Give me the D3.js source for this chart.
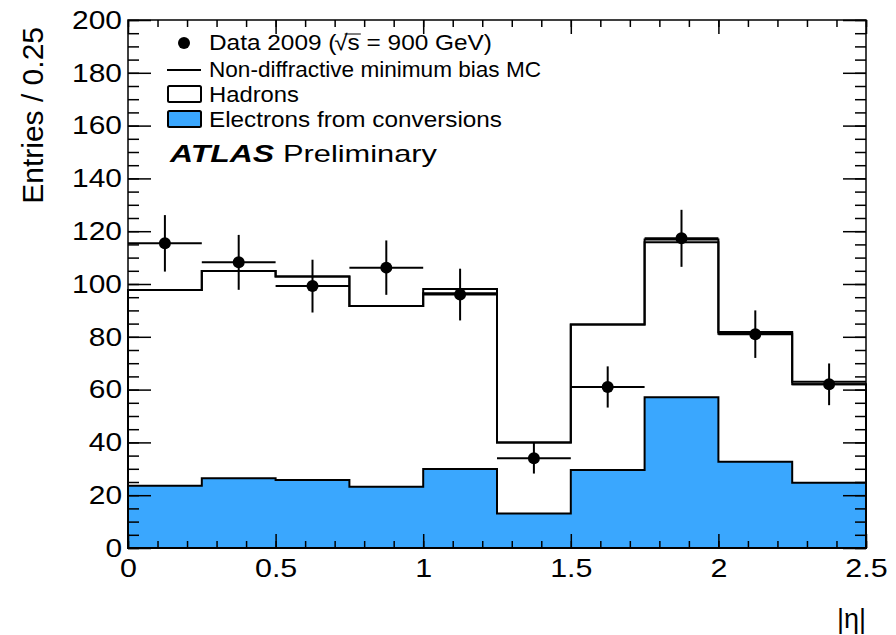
<!DOCTYPE html>
<html>
<head>
<meta charset="utf-8">
<script src="https://cdn.jsdelivr.net/npm/d3@7"></script>
<style>
  body { margin: 0; background: #fff; }
  text { font-family: "Liberation Sans", Arial, sans-serif; fill: #000; }
</style>
</head>
<body>
<div id="chart"></div>
<script>
// bin edges in |eta|
const binEdges = [0, 0.25, 0.5, 0.75, 1, 1.25, 1.5, 1.75, 2, 2.25, 2.5];
// data 2009 and its errors
const dataValues = [115.4, 108.2, 99.2, 106.2, 96, 34, 61, 117.3, 81, 62];
const dataErrors = [10.7, 10.4, 10, 10.3, 9.8, 5.8, 7.8, 10.8, 9, 7.9];
// non-diffractive MB MC (total)
const mcValues = [97.7, 104.9, 102.8, 91.7, 98.1, 40.0, 84.7, 116.9, 81.8, 63.0];
// stacked hadrons + electrons
const stackValues = [97.7, 104.9, 102.8, 91.7, 96.5, 40.0, 84.7, 115.8, 81.2, 62.0];
// electrons from conversions
const electronValues = [23.6, 26.4, 25.8, 23.2, 29.9, 13.1, 29.5, 57.1, 32.7, 24.7];

const yMajorTicks = [0, 20, 40, 60, 80, 100, 120, 140, 160, 180, 200];
const xMajorTicks = [0, 0.5, 1, 1.5, 2, 2.5];

const legendItems = [
  { type: "marker", label: "Data 2009 (", width: 283 },
  { type: "line", label: "Non-diffractive minimum bias MC", width: 332 },
  { type: "box", label: "Hadrons", width: 90, fill: "#fff" },
  { type: "box", label: "Electrons from conversions", width: 293, fill: "#3aa7fe" }
];

const config = {
  width: 896, height: 635,
  margin: { top: 20, right: 30, bottom: 87, left: 128 }
};
const W = config.width - config.margin.left - config.margin.right;
const H = config.height - config.margin.top - config.margin.bottom;
const blue = "#3aa7fe";

const svg = d3.select("#chart").append("svg")
  .attr("width", config.width)
  .attr("height", config.height);

const g = svg.append("g")
  .attr("transform", `translate(${config.margin.left},${config.margin.top})`);

const x = d3.scaleLinear().domain([0, 2.5]).range([0, W]);
const y = d3.scaleLinear().domain([0, 200]).range([H, 0]);

// step histogram helper
function histPoints(values) {
  const pts = values.map((v, i) => ({ e: binEdges[i], v: v }));
  pts.push({ e: binEdges[binEdges.length - 1], v: values[values.length - 1] });
  return pts;
}
const area = d3.area()
  .curve(d3.curveStepAfter)
  .x(d => x(d.e))
  .y0(y(0))
  .y1(d => y(d.v));

// hadrons (stack top) white fill with outline
g.append("path")
  .datum(histPoints(stackValues))
  .attr("d", area)
  .attr("fill", "#fff")
  .attr("stroke", "#000")
  .attr("stroke-width", 2);

// electrons
g.append("path")
  .datum(histPoints(electronValues))
  .attr("d", area)
  .attr("fill", blue)
  .attr("stroke", "#000")
  .attr("stroke-width", 2);

// MC line
const line = d3.line()
  .curve(d3.curveStepAfter)
  .x(d => x(d.e))
  .y(d => y(d.v));
g.append("path")
  .datum(histPoints(mcValues))
  .attr("d", line)
  .attr("fill", "none")
  .attr("stroke", "#000")
  .attr("stroke-width", 2);

// frame
g.append("rect")
  .attr("width", W).attr("height", H)
  .attr("fill", "none")
  .attr("stroke", "#000")
  .attr("stroke-width", 1.5);

// axes (ticks inward)
function stretchLabels(sel, k) {
  sel.selectAll("text").each(function () {
    const len = this.getComputedTextLength();
    d3.select(this).attr("textLength", len * k).attr("lengthAdjust", "spacingAndGlyphs");
  });
}
function styleAxis(sel) {
  sel.select(".domain").remove();
  sel.selectAll("line").attr("stroke", "#000").attr("stroke-width", 1.5);
}

const xMinor = d3.range(0, 2.501, 0.1);
const yMinor = d3.range(0, 200.1, 5);

// bottom
g.append("g").attr("transform", `translate(0,${H})`)
  .call(d3.axisBottom(x).tickValues(xMinor).tickSize(-7).tickFormat(""))
  .call(styleAxis);
const xAxisG = g.append("g").attr("transform", `translate(0,${H})`)
  .call(d3.axisBottom(x).tickValues(xMajorTicks).tickSize(-14).tickPadding(8)
    .tickFormat(d3.format("")))
  .call(styleAxis);
xAxisG.selectAll("text").attr("font-size", 26).attr("font-family", "Liberation Sans, Arial, sans-serif")
  .attr("dy", "0.72em").attr("y", 10);
stretchLabels(xAxisG, 1.17);
// top
g.append("g")
  .call(d3.axisTop(x).tickValues(xMinor).tickSize(-7).tickFormat(""))
  .call(styleAxis);
g.append("g")
  .call(d3.axisTop(x).tickValues(xMajorTicks).tickSize(-14).tickFormat(""))
  .call(styleAxis);
// left
g.append("g")
  .call(d3.axisLeft(y).tickValues(yMinor).tickSize(-11).tickFormat(""))
  .call(styleAxis);
const yAxisG = g.append("g")
  .call(d3.axisLeft(y).tickValues(yMajorTicks).tickSize(-23).tickPadding(7))
  .call(styleAxis);
yAxisG.selectAll("text").attr("font-size", 26).attr("font-family", "Liberation Sans, Arial, sans-serif")
  .attr("x", -6);
stretchLabels(yAxisG, 1.15);
// right
g.append("g").attr("transform", `translate(${W},0)`)
  .call(d3.axisRight(y).tickValues(yMinor).tickSize(-11).tickFormat(""))
  .call(styleAxis);
g.append("g").attr("transform", `translate(${W},0)`)
  .call(d3.axisRight(y).tickValues(yMajorTicks).tickSize(-23).tickFormat(""))
  .call(styleAxis);

// data points with error bars
const pts = g.append("g").selectAll("g")
  .data(dataValues)
  .join("g");
pts.append("line")
  .attr("x1", (d, i) => x(binEdges[i]))
  .attr("x2", (d, i) => x(binEdges[i + 1]))
  .attr("y1", d => y(d)).attr("y2", d => y(d))
  .attr("stroke", "#000").attr("stroke-width", 2);
pts.append("line")
  .attr("x1", (d, i) => x((binEdges[i] + binEdges[i + 1]) / 2))
  .attr("x2", (d, i) => x((binEdges[i] + binEdges[i + 1]) / 2))
  .attr("y1", (d, i) => y(d + dataErrors[i]))
  .attr("y2", (d, i) => y(d - dataErrors[i]))
  .attr("stroke", "#000").attr("stroke-width", 2);
pts.append("circle")
  .attr("cx", (d, i) => x((binEdges[i] + binEdges[i + 1]) / 2))
  .attr("cy", d => y(d))
  .attr("r", 6)
  .attr("fill", "#000");

// legend
const legend = svg.append("g");
const legendTop = [43, 70, 94, 119];
const legendBase = [50, 76.5, 101.5, 127];
legendItems.forEach((item, i) => {
  if (item.type === "marker") {
    legend.append("circle").attr("cx", 184).attr("cy", legendTop[i]).attr("r", 6).attr("fill", "#000");
  } else if (item.type === "line") {
    legend.append("line").attr("x1", 167).attr("x2", 201)
      .attr("y1", legendTop[i]).attr("y2", legendTop[i])
      .attr("stroke", "#000").attr("stroke-width", 2);
  } else {
    legend.append("rect").attr("x", 168).attr("y", legendTop[i] - 8)
      .attr("width", 33).attr("height", 16)
      .attr("rx", 1.5)
      .attr("fill", item.fill).attr("stroke", "#000").attr("stroke-width", 2);
  }
});

// legend labels
const fs = 22;
const t0 = legend.append("text").attr("x", 209).attr("y", legendBase[0]).attr("font-size", fs);
t0.append("tspan").text("Data 2009 (");
t0.append("tspan").text("\u221A").attr("dx", -2);
t0.append("tspan").attr("class", "sq").text("s");
t0.append("tspan").text(" = 900 GeV)");
t0.attr("textLength", legendItems[0].width).attr("lengthAdjust", "spacingAndGlyphs");
// overline over the s of sqrt
const sqS = t0.select(".sq").node();
const sb = sqS.getBBox ? (function () {
  const n = sqS.getNumberOfChars();
  const s = sqS.getStartPositionOfChar(0);
  const e = sqS.getEndPositionOfChar(n - 1);
  return { x0: s.x, x1: e.x };
})() : null;
if (sb) {
  legend.append("line")
    .attr("x1", sb.x0 - 3).attr("x2", sb.x1 + 1)
    .attr("y1", legendBase[0] - 16).attr("y2", legendBase[0] - 16)
    .attr("stroke", "#000").attr("stroke-width", 1);
}
legendItems.slice(1).forEach((item, j) => {
  legend.append("text")
    .attr("x", 209).attr("y", legendBase[j + 1])
    .attr("font-size", fs)
    .attr("textLength", item.width)
    .attr("lengthAdjust", "spacingAndGlyphs")
    .text(item.label);
});

// ATLAS Preliminary
legend.append("text")
  .attr("x", 170).attr("y", 162)
  .attr("font-size", 24).attr("font-weight", "bold").attr("font-style", "italic")
  .attr("textLength", 104).attr("lengthAdjust", "spacingAndGlyphs")
  .text("ATLAS");
legend.append("text")
  .attr("x", 283).attr("y", 162)
  .attr("font-size", 24)
  .attr("textLength", 154).attr("lengthAdjust", "spacingAndGlyphs")
  .text("Preliminary");

// axis titles
svg.append("text")
  .attr("transform", "translate(43,27) rotate(-90)")
  .attr("text-anchor", "end")
  .attr("font-size", 30)
  .text("Entries / 0.25");
svg.append("text")
  .attr("x", 866).attr("y", 628)
  .attr("text-anchor", "end")
  .attr("font-size", 27)
  .text("|\u03B7|");
</script>
</body>
</html>
